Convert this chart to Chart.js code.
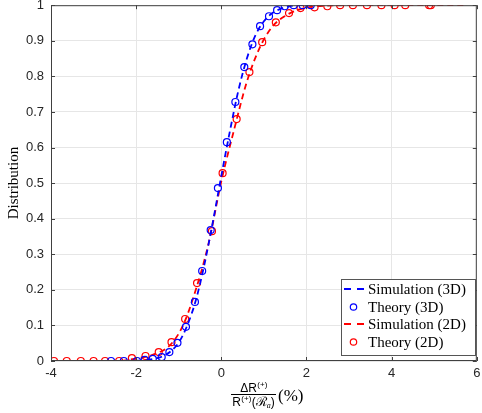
<!DOCTYPE html>
<html lang="en">
<head>
    <meta charset="UTF-8">
    <title>Distribution</title>
    <style>
        html, body { margin: 0; padding: 0; background: #fff; }
        .chartWrap { position: relative; width: 482px; height: 413px; }
    </style>
</head>
<body>
    <div class="chartWrap">
        <canvas id="myChart"></canvas>
    </div>

    <script src="https://cdn.jsdelivr.net/npm/chart.js"></script>
    <script>
        // tick labels
        const xTickLabels = ['-4', '-2', '0', '2', '4', '6'];
        const yTickLabels = ['0', '0.1', '0.2', '0.3', '0.4', '0.5', '0.6', '0.7', '0.8', '0.9', '1'];

        // Simulation (3D) - dashed blue
        const sim3dX = [-2.7, -2.0, -1.6, -1.4, -1.2, -1.0, -0.8, -0.6, -0.4, -0.2, 0, 0.2, 0.4, 0.6, 0.8, 1.0, 1.2, 1.4, 1.6, 1.8, 2.1];
        const sim3dY = [0, 0.001, 0.006, 0.012, 0.026, 0.052, 0.1, 0.17, 0.27, 0.39, 0.52, 0.645, 0.76, 0.85, 0.915, 0.955, 0.978, 0.99, 0.997, 1, 1];
        // Theory (3D) - blue circles
        const th3dX = [-2.59, -2.29, -1.98, -1.80, -1.61, -1.40, -1.22, -1.03, -0.83, -0.62, -0.45, -0.25, -0.08, 0.13, 0.33, 0.54, 0.73, 0.91, 1.12, 1.31, 1.49, 1.70, 1.91, 2.10];
        const th3dY = [0, 0, 0, 0.003, 0.006, 0.011, 0.025, 0.051, 0.096, 0.166, 0.253, 0.368, 0.486, 0.615, 0.728, 0.826, 0.89, 0.941, 0.969, 0.986, 0.997, 1, 1, 1];
        // Simulation (2D) - dashed red
        const sim2dX = [-4, -2.5, -2.0, -1.6, -1.2, -0.9, -0.6, -0.3, 0, 0.3, 0.6, 0.9, 1.2, 1.5, 1.8, 2.1, 2.5, 3.0, 5.75];
        const sim2dY = [0, 0, 0.007, 0.018, 0.045, 0.1, 0.2, 0.33, 0.505, 0.65, 0.785, 0.88, 0.94, 0.97, 0.987, 0.995, 0.999, 1, 1];
        // Theory (2D) - red circles
        const th2dX = [-3.93, -3.63, -3.30, -3.00, -2.73, -2.40, -2.10, -1.78, -1.47, -1.17, -0.85, -0.57, -0.22, 0.03, 0.36, 0.66, 0.96, 1.28, 1.59, 1.86, 2.19, 2.49, 2.79, 3.09, 3.42, 3.76, 4.07, 4.32, 4.88, 4.92];
        const th2dY = [0, 0, 0, 0, 0, 0, 0.008, 0.014, 0.025, 0.053, 0.118, 0.219, 0.365, 0.528, 0.68, 0.812, 0.896, 0.952, 0.978, 0.992, 0.994, 0.997, 1, 1, 1, 1, 1, 1, 1, 1];

        const pts = (xs, ys) => xs.map((v, i) => ({ x: v, y: ys[i] }));

        const lineSet = (label, color, xs, ys) => ({
            label: label,
            data: pts(xs, ys),
            showLine: true,
            borderColor: color,
            borderWidth: 1.8,
            borderDash: [6, 4],
            pointRadius: 0,
            cubicInterpolationMode: 'monotone',
            kind: 'line',
        });
        const markSet = (label, color, xs, ys) => ({
            label: label,
            data: pts(xs, ys),
            showLine: false,
            borderColor: color,
            backgroundColor: 'rgba(0,0,0,0)',
            borderWidth: 1.2,
            pointStyle: 'circle',
            pointRadius: 3.5,
            kind: 'mark',
        });

        const sansFont = '"Liberation Sans", Arial, sans-serif';
        const serifFont = '"Liberation Serif", "Times New Roman", serif';

        const frame = {
            id: 'frame',
            afterDraw(chart) {
                const { ctx, chartArea: a, scales: { x, y } } = chart;
                ctx.save();
                // box + inward ticks
                ctx.strokeStyle = '#404040';
                ctx.lineWidth = 1;
                ctx.strokeRect(a.left + 0.5, a.top + 0.5, a.right - a.left - 1, a.bottom - a.top - 1);
                ctx.beginPath();
                x.ticks.forEach(t => {
                    const px = Math.round(x.getPixelForValue(t.value)) + 0.5;
                    ctx.moveTo(px, a.bottom); ctx.lineTo(px, a.bottom - 4);
                    ctx.moveTo(px, a.top); ctx.lineTo(px, a.top + 4);
                });
                y.ticks.forEach(t => {
                    const py = Math.round(y.getPixelForValue(t.value)) + 0.5;
                    ctx.moveTo(a.left, py); ctx.lineTo(a.left + 4, py);
                    ctx.moveTo(a.right, py); ctx.lineTo(a.right - 4, py);
                });
                ctx.stroke();

                // x axis title: fraction
                ctx.fillStyle = '#000';
                ctx.textBaseline = 'alphabetic';
                ctx.textAlign = 'left';
                const cx = 253.5;
                const big = '12px ' + sansFont, small = '8px ' + sansFont;
                ctx.font = big; const wNum1 = ctx.measureText('ΔR').width;
                ctx.font = small; const wSup = ctx.measureText('(+)').width;
                let sx = cx - (wNum1 + wSup) / 2;
                ctx.font = big; ctx.fillText('ΔR', sx, 392);
                ctx.font = small; ctx.fillText('(+)', sx + wNum1 + 0.5, 387);

                ctx.beginPath();
                ctx.moveTo(231, 394.5); ctx.lineTo(276, 394.5);
                ctx.strokeStyle = '#000';
                ctx.stroke();

                const calR = '13px ' + serifFont, itA = 'italic 8px ' + serifFont;
                ctx.font = big; const wR = ctx.measureText('R').width, wP = ctx.measureText('(').width;
                ctx.font = small; const wS2 = ctx.measureText('(+)').width;
                ctx.font = calR; const wC = ctx.measureText('ℛ').width;
                ctx.font = itA; const wA = ctx.measureText('a').width;
                const wDen = wR + wS2 + 1 + wP * 2 + wC + wA;
                sx = cx - wDen / 2;
                ctx.font = big; ctx.fillText('R', sx, 406); sx += wR + 0.5;
                ctx.font = small; ctx.fillText('(+)', sx, 401); sx += wS2 + 0.5;
                ctx.font = big; ctx.fillText('(', sx, 406); sx += wP;
                ctx.font = calR; ctx.fillText('ℛ', sx, 406); sx += wC;
                ctx.font = itA; ctx.fillText('a', sx, 408); sx += wA;
                ctx.font = big; ctx.fillText(')', sx, 406);

                ctx.font = '17px ' + serifFont;
                ctx.fillText('(%)', 278, 401);

                // legend
                const lx = 341, ly = 279, lw = 134, lh = 76;
                ctx.fillStyle = '#fff';
                ctx.fillRect(lx, ly, lw, lh);
                ctx.strokeStyle = '#555';
                ctx.lineWidth = 1;
                ctx.strokeRect(lx + 0.5, ly + 0.5, lw, lh);
                const rows = [289, 307, 324, 342];
                ctx.font = '15px ' + serifFont;
                ctx.textBaseline = 'middle';
                chart.data.datasets.forEach((ds, i) => {
                    const ry = rows[i];
                    ctx.strokeStyle = ds.borderColor;
                    if (ds.kind === 'line') {
                        ctx.lineWidth = 1.8;
                        ctx.setLineDash([7, 6]);
                        ctx.beginPath();
                        ctx.moveTo(344, ry); ctx.lineTo(364, ry);
                        ctx.stroke();
                        ctx.setLineDash([]);
                    } else {
                        ctx.lineWidth = 1.2;
                        ctx.beginPath();
                        ctx.arc(353.5, ry, 3.2, 0, Math.PI * 2);
                        ctx.stroke();
                    }
                    ctx.fillStyle = '#000';
                    ctx.fillText(ds.label, 368, ry + 1);
                });
                ctx.restore();
            }
        };

        let ctx = document.getElementById('myChart').getContext('2d');
        let myChart = new Chart(ctx, {
            type: 'scatter',
            data: {
                datasets: [
                    lineSet('Simulation (3D)', '#0000ff', sim3dX, sim3dY),
                    markSet('Theory (3D)', '#0000ff', th3dX, th3dY),
                    lineSet('Simulation (2D)', '#ff0000', sim2dX, sim2dY),
                    markSet('Theory (2D)', '#ff0000', th2dX, th2dY),
                ]
            },
            options: {
                responsive: true,
                maintainAspectRatio: false,
                animation: false,
                events: [],
                layout: { padding: { top: 5, right: 2, left: 0, bottom: 0 } },
                plugins: {
                    legend: { display: false },
                    tooltip: { enabled: false },
                },
                scales: {
                    x: {
                        type: 'linear',
                        min: -4,
                        max: 6,
                        ticks: {
                            stepSize: 2,
                            padding: 5,
                            color: '#262626',
                            font: { family: sansFont, size: 13 },
                            maxRotation: 0,
                            callback: (v, i) => xTickLabels[i],
                        },
                        grid: { color: '#e6e6e6', drawTicks: false },
                        border: { display: false },
                        afterFit: (s) => { s.height = 52; s.paddingLeft = 0; s.paddingRight = 0; },
                    },
                    y: {
                        type: 'linear',
                        min: 0,
                        max: 1,
                        ticks: {
                            stepSize: 0.1,
                            padding: 7,
                            color: '#262626',
                            font: { family: sansFont, size: 13 },
                            callback: (v, i) => yTickLabels[i],
                        },
                        grid: { color: '#e6e6e6', drawTicks: false },
                        border: { display: false },
                        title: {
                            display: true,
                            text: 'Distribution',
                            color: '#000',
                            font: { family: serifFont, size: 15 },
                            padding: { top: 5, bottom: 4 },
                        },
                        afterFit: (s) => { s.width = 51; s.paddingTop = 0; s.paddingBottom = 0; },
                    }
                }
            },
            plugins: [frame],
        });
    </script>
</body>
</html>
